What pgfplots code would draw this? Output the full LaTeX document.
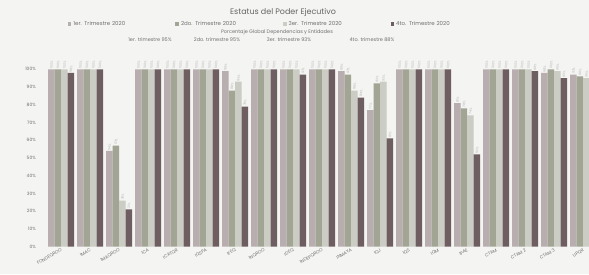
\documentclass[border=0pt]{standalone}
\usepackage{fontspec}
\setmainfont{Poppins}
\usepackage{pgfplots}
\pgfplotsset{compat=1.18}
\definecolor{cA}{HTML}{B8ADAF}
\definecolor{cB}{HTML}{A2A494}
\definecolor{cC}{HTML}{CBCCC4}
\definecolor{cD}{HTML}{6E5E62}
\definecolor{txt}{HTML}{707070}
\definecolor{bg}{HTML}{F4F4F2}
\begin{document}
\begin{tikzpicture}[x=1bp,y=1bp]
\fill[bg] (-39.25,-27.3) rectangle (549.75,246.7);
\begin{axis}[at={(0,0)}, anchor=south west, scale only axis,
  width=549.6bp, height=177.4bp,
  xmin=-0.75, xmax=18.2, ymin=0, ymax=100, clip=false,
  ybar=0pt, bar width=6.5bp,
  axis line style={draw=none}, major tick length=0pt,
  /pgf/number format/assume math mode=true,
  xtick={0,...,18},
  xticklabels={FONDEQROO,IMAC,IMAQROO,ICA,ICATQR,IQSPA,IFEQ,INQROO,IDEQ,INDEPQROO,INMAYA,IQJ,IQS,IQM,IPAE,CTAM,CTAM 2,CTAM 3,UPQR},
  xticklabel style={rotate=30, anchor=north east, font=\fontsize{4.5}{5}\selectfont, text=txt, inner sep=1pt},
  ytick={0,10,...,100},
  yticklabel={\pgfmathprintnumber{\tick}\%},
  yticklabel style={font=\fontsize{4.5}{5}\selectfont, text=txt},
  nodes near coords={\pgfmathprintnumber{\pgfplotspointmeta}\%},
  nodes near coords style={font=\fontsize{3.2}{3.6}\selectfont, text=gray!60, rotate=85, anchor=west, inner sep=0.6pt},
  legend columns=4,
  legend style={at={(0.4435,1.2553)}, anchor=center, draw=none, fill=none,
    font=\fontsize{5.5}{6}\selectfont, text=txt,
    nodes={text width=100bp, align=left}},
  legend image code/.code={\fill[#1] (0bp,-1.8bp) rectangle (3.6bp,1.8bp);},
]
\addplot[fill=cA, draw=none] coordinates {(0,100)(1,100)(2,54)(3,100)(4,100)(5,100)(6,99)(7,100)(8,100)(9,100)(10,99)(11,77)(12,100)(13,100)(14,81)(15,100)(16,100)(17,98)(18,97)};
\addplot[fill=cB, draw=none] coordinates {(0,100)(1,100)(2,57)(3,100)(4,100)(5,100)(6,88)(7,100)(8,100)(9,100)(10,97)(11,92)(12,100)(13,100)(14,78)(15,100)(16,100)(17,100)(18,96)};
\addplot[fill=cC, draw=none] coordinates {(0,100)(1,100)(2,26)(3,100)(4,100)(5,100)(6,93)(7,100)(8,100)(9,100)(10,88)(11,93)(12,100)(13,100)(14,74)(15,100)(16,100)(17,99)(18,95)};
\addplot[fill=cD, draw=none] coordinates {(0,98)(1,100)(2,21)(3,100)(4,100)(5,100)(6,79)(7,100)(8,97)(9,100)(10,84)(11,61)(12,100)(13,100)(14,52)(15,100)(16,99)(17,95)(18,90)};
\legend{1er. Trimestre 2020, 2do. Trimestre 2020, 3er. Trimestre 2020, 4to. Trimestre 2020}
\end{axis}
\node[font=\fontsize{8}{9}\selectfont, text=txt!90!black] at (243.75,233.7) {Estatus del Poder Ejecutivo};
\node[font=\fontsize{5}{6}\selectfont, text=txt] at (237.75,214.7) {Porcentaje Global Dependencias y Entidades};
\node[font=\fontsize{5}{6}\selectfont, text=txt] at (110.75,207.2) {1er. trimestre 95\%};
\node[font=\fontsize{5}{6}\selectfont, text=txt] at (177.75,207.2) {2do. trimestre 95\%};
\node[font=\fontsize{5}{6}\selectfont, text=txt] at (249.75,207.2) {3er. trimestre 93\%};
\node[font=\fontsize{5}{6}\selectfont, text=txt] at (332.75,207.2) {4to. trimestre 88\%};
\pgfresetboundingbox
\useasboundingbox (-39.25,-27.3) rectangle (549.75,246.7);
\end{tikzpicture}
\end{document}
